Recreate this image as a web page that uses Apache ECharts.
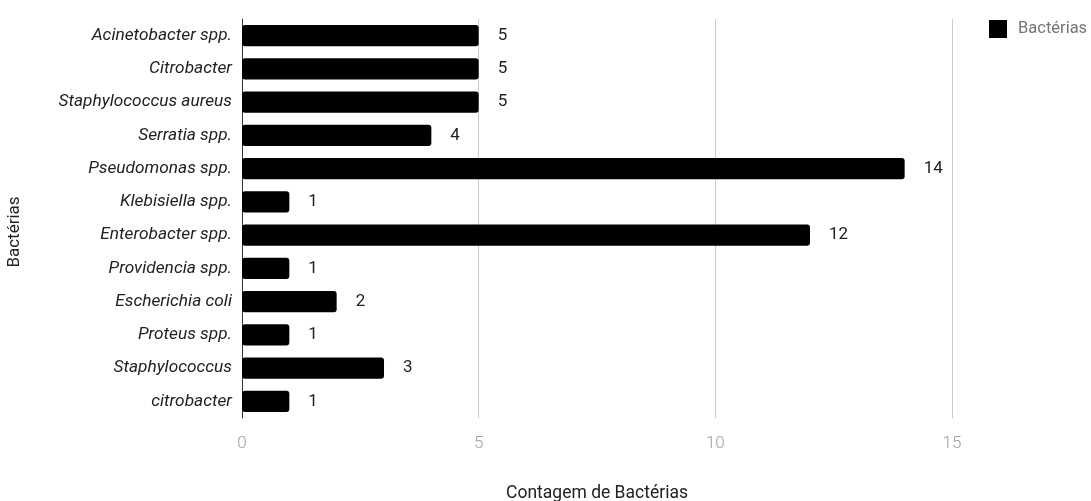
<!DOCTYPE html>
<html><head><meta charset="utf-8">
<script src="https://cdn.jsdelivr.net/npm/echarts@6/dist/echarts.min.js"></script>
<style>html,body{margin:0;padding:0;background:#fff}#c{width:1091px;height:501px}</style>
</head><body><div id="c"></div>
<script>
const categories = ["Acinetobacter spp.","Citrobacter","Staphylococcus aureus","Serratia spp.","Pseudomonas spp.","Klebisiella spp.","Enterobacter spp.","Providencia spp.","Escherichia coli","Proteus spp.","Staphylococcus","citrobacter"];
const values = [5,5,5,4,14,1,12,1,2,1,3,1];
const seriesName = "Bactérias";
const xTitle = "Contagem de Bactérias";
const yTitle = "Bactérias";

const chart = echarts.init(document.getElementById('c'));
chart.setOption({
  animation:false,
  textStyle:{fontFamily:'Roboto'},
  legend:{data:[seriesName], left:984, top:15, icon:'rect', itemWidth:18, itemHeight:18,
    textStyle:{color:'#757575', fontSize:16.5, fontFamily:'Roboto', padding:[0,0,0,6]}},
  grid:{left:242, right:139, top:19, bottom:83, containLabel:false},
  xAxis:{type:'value', min:0, max:15, interval:5,
    axisLine:{show:false}, axisTick:{show:false},
    splitLine:{lineStyle:{color:'#cccccc', width:1}},
    axisLabel:{color:'#9e9e9e', fontSize:17, fontWeight:300, margin:17, fontFamily:'Roboto'}},
  yAxis:{type:'category', data:categories, inverse:true,
    axisLine:{lineStyle:{color:'#333333', width:1}}, axisTick:{show:false},
    axisLabel:{color:'#222222', fontSize:17.3, fontStyle:'italic', margin:10, fontFamily:'Roboto'}},
  graphic:[
    {type:'text', x:597, y:494, style:{text:xTitle, fill:'#222', fontSize:17.5, fontFamily:'Roboto', align:'center', verticalAlign:'middle'}},
    {type:'text', rotation:Math.PI/2, x:15, y:232, style:{text:yTitle, fill:'#222', fontSize:17, fontFamily:'Roboto', align:'center', verticalAlign:'middle'}}
  ],
  series:[{name:seriesName, type:'bar', data:values, barCategoryGap:'36%',
    itemStyle:{color:'#000000', borderRadius:3},
    label:{show:true, position:'right', distance:19, color:'#222', fontSize:17, fontFamily:'Roboto'}}]
});
</script></body></html>
